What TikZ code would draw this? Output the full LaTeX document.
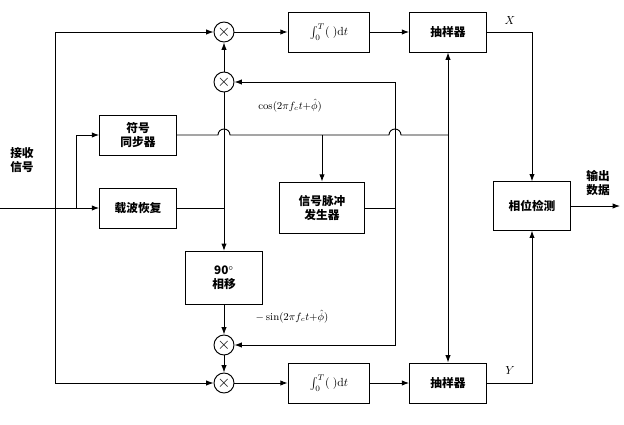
\documentclass[tikz,border=0pt]{standalone}
\usepackage{fontspec}
\newfontfamily\cjk{Noto Sans CJK SC}
\usetikzlibrary{arrows.meta,positioning,calc}
\tikzset{
  blk/.style={draw, thick, minimum width=2.3cm, minimum height=1.2cm, align=center, font=\cjk\bfseries},
  mul/.style={draw, thick, circle, minimum size=0.6cm, inner sep=0pt, font=\Large},
  ln/.style={thick},
  ar/.style={thick, -{Latex[length=2.2mm,width=1.6mm]}},
}
\begin{document}
\begin{tikzpicture}[x=0.03cm, y=-0.03cm]
      \useasboundingbox (0,0) rectangle (624,424);
      % multipliers
      \node (m1) [mul] at (224,32) {$\times$};
      \node (m2) [mul] at (224,82) {$\times$};
      \node (m3) [mul] at (224,345) {$\times$};
      \node (m4) [mul] at (224,383) {$\times$};
      % blocks
      \node (sync) [blk] at (138,135) {符号\\同步器};
      \node (carr) [blk] at (138,208) {载波恢复};
      \node (pulse) [blk, minimum width=2.55cm, minimum height=1.55cm] at (322,208) {信号脉冲\\发生器};
      \node (shift) [blk, minimum height=1.6cm] at (224,278) {90$^\circ$\\相移};
      \node (int1) [blk, minimum width=2.45cm] at (329,32) {$\int_0^T(\;)\mathrm{d}t$};
      \node (int2) [blk, minimum width=2.45cm] at (329,383) {$\int_0^T(\;)\mathrm{d}t$};
      \node (smp1) [blk] at (448,32) {抽样器};
      \node (smp2) [blk] at (448,383) {抽样器};
      \node (det) [blk, minimum height=1.45cm] at (532,206) {相位检测};
      % labels
      \node (in) [font=\cjk\bfseries, align=center] at (22,160) {接收\\信号};
      \node (out) [font=\cjk\bfseries, align=center] at (598,183) {输出\\数据};
      \node (cos) [font=\small] at (290,106) {$\cos(2\pi f_c t{+}\hat{\phi})$};
      \node (sin) [font=\small] at (292,317) {$-\sin(2\pi f_c t{+}\hat{\phi})$};
      \node (X) at (510,20) {$X$};
      \node (Y) at (510,370) {$Y$};
      % junctions
      \coordinate (a) at (0,208);
      \coordinate (b) at (55,208);
      \coordinate (c) at (76,208);
      \coordinate (d) at (224,208);
      \coordinate (e) at (395,208);
      \coordinate (f) at (322,135);
      \coordinate (g) at (448,135);
      \coordinate (o) at (620,206);

      \draw[ln] (a) -- (c);
      \draw[ar] (b) |- (m1);
      \draw[ar] (b) |- (m4);
      \draw[ar] (c) |- (sync);
      \draw[ar] (c) -- (carr);
      \draw[ln] (carr) -- (d);
      \draw[ln] (d) -- (m2);
      \draw[ar] (d) -- (shift);
      \draw[ar] (m2) -- (m1);
      \draw[ar] (shift) -- (m3);
      \draw[ar] (m3) -- (m4);
      \draw[ln] (pulse) -- (e);
      \draw[ar] (e) |- (m2);
      \draw[ar] (e) |- (m3);
      \draw[ln] (sync.east) -- (218,135) arc (180:360:6) -- (f) -- (389,135) arc (180:360:6) -- (g);
      \draw[ar] (f) -- (pulse);
      \draw[ar] (g) -- (smp1);
      \draw[ar] (g) -- (smp2);
      \draw[ar] (m1) -- (int1);
      \draw[ar] (m4) -- (int2);
      \draw[ar] (int1) -- (smp1);
      \draw[ar] (int2) -- (smp2);
      \draw[ar] (smp1) -| (det);
      \draw[ar] (smp2) -| (det);
      \draw[ar] (det) -- (o);
\end{tikzpicture}
\end{document}
